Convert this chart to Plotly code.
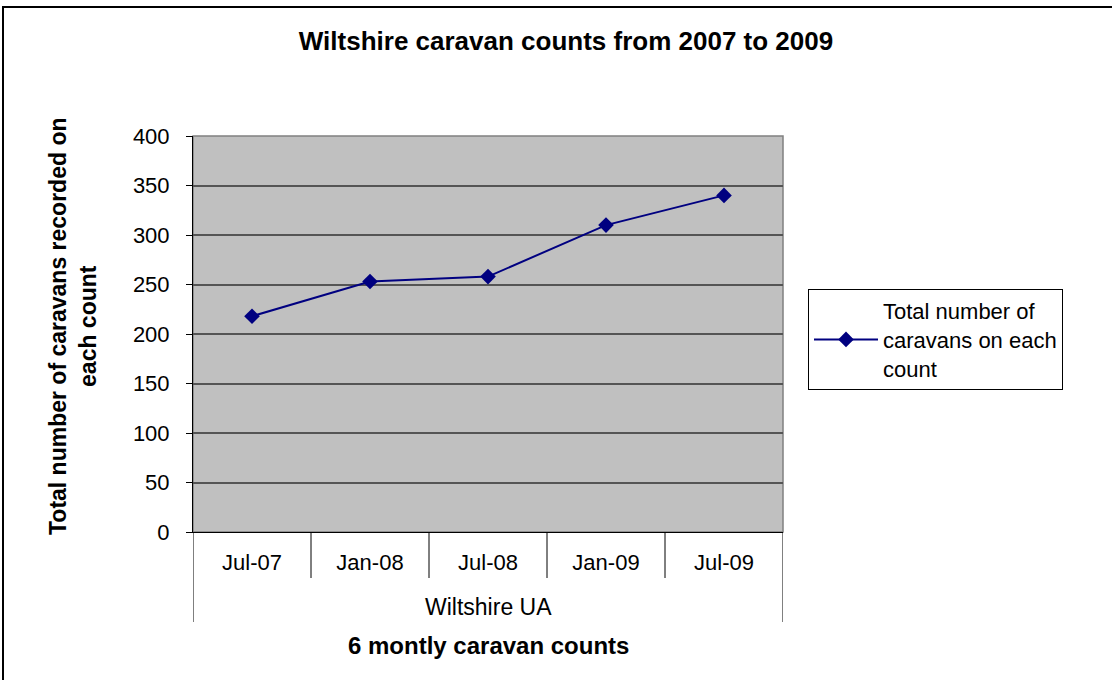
import plotly.graph_objects as go

categories = ["Jul-07", "Jan-08", "Jul-08", "Jan-09", "Jul-09"]
group_label = "Wiltshire UA"
counts = [218, 253, 258, 310, 340]
series_name = "Total number of<br>caravans on each<br>count"
title_text = "Wiltshire caravan counts from 2007 to 2009"
x_title = "6 montly caravan counts"
y_title = "Total number of caravans recorded on<br>each count"

FONT = "Liberation Sans, Arial, sans-serif"
W, H = 1112, 680
L, R, T, B = 193, 783, 136, 532

def px_x(px):
    return (px - L) / (R - L)

def px_y(py):
    return (B - py) / (B - T)

fig = go.Figure()
fig.add_trace(go.Scatter(
    x=categories,
    y=counts,
    mode="lines+markers",
    name=series_name,
    line=dict(color="#000080", width=2),
    marker=dict(symbol="diamond", size=12, color="#000080"),
    showlegend=True,
))

fig.update_layout(
    width=W, height=H,
    margin=dict(l=L, r=W - R, t=T, b=H - B, pad=0),
    paper_bgcolor="white",
    plot_bgcolor="#C0C0C0",
    font=dict(family=FONT, color="black", size=22),
    title=dict(text="<b>" + title_text + "</b>", xref="container", yref="container",
               x=566 / W, y=1 - 41 / H, xanchor="center", yanchor="middle",
               font=dict(family=FONT, size=26, color="black")),
    showlegend=True,
    legend=dict(x=px_x(808), y=px_y(289), xanchor="left", yanchor="top",
                bgcolor="white", bordercolor="black", borderwidth=1,
                font=dict(family=FONT, size=22, color="black"),
                itemwidth=64, tracegroupgap=0),
    xaxis=dict(
        type="category",
        range=[-0.5, len(categories) - 0.5],
        showline=True, linecolor="black", linewidth=1,
        showgrid=False, zeroline=False,
        ticks="", ticklabelstandoff=11,
        tickfont=dict(family=FONT, size=22, color="black"),
    ),
    yaxis=dict(
        range=[0, 400], dtick=50, tick0=0,
        showline=True, linecolor="black", linewidth=1,
        showgrid=True, gridcolor="#555555", gridwidth=1.5,
        zeroline=False,
        ticks="outside", ticklen=6, tickcolor="black",
        tickfont=dict(family=FONT, size=22, color="black"),
        ticklabelstandoff=12,
    ),
)

# plot area border (gray)
fig.add_shape(type="rect", xref="paper", yref="paper", x0=0, x1=1, y0=0, y1=1,
              line=dict(color="#808080", width=1.5), layer="below")
# category dividers below the axis
n = len(categories)
for i in range(n + 1):
    outer = i == 0 or i == n
    fig.add_shape(type="line", xref="x", yref="paper",
                  x0=i - 0.5, x1=i - 0.5, y0=0, y1=px_y(622 if outer else 578),
                  line=dict(color="black", width=1))
# outer chart border
fig.add_shape(type="rect", xref="paper", yref="paper",
              x0=px_x(3), x1=px_x(1120), y0=px_y(690), y1=px_y(7),
              line=dict(color="black", width=2), fillcolor="rgba(0,0,0,0)")

fig.add_annotation(text=group_label, xref="paper", yref="paper",
                   x=0.5, y=px_y(607), showarrow=False, xanchor="center", yanchor="middle",
                   font=dict(family=FONT, size=23, color="black"))
fig.add_annotation(text="<b>" + x_title + "</b>", xref="paper", yref="paper",
                   x=0.5, y=px_y(645), showarrow=False, xanchor="center", yanchor="middle",
                   font=dict(family=FONT, size=24, color="black"))
fig.add_annotation(text="<b>" + y_title + "</b>", xref="paper", yref="paper",
                   x=px_x(73), y=px_y(326), showarrow=False, textangle=-90,
                   xanchor="center", yanchor="middle",
                   font=dict(family=FONT, size=23, color="black"))

fig.write_html("out.html", config={"displayModeBar": False},
               post_script="document.body.style.margin='0';")
